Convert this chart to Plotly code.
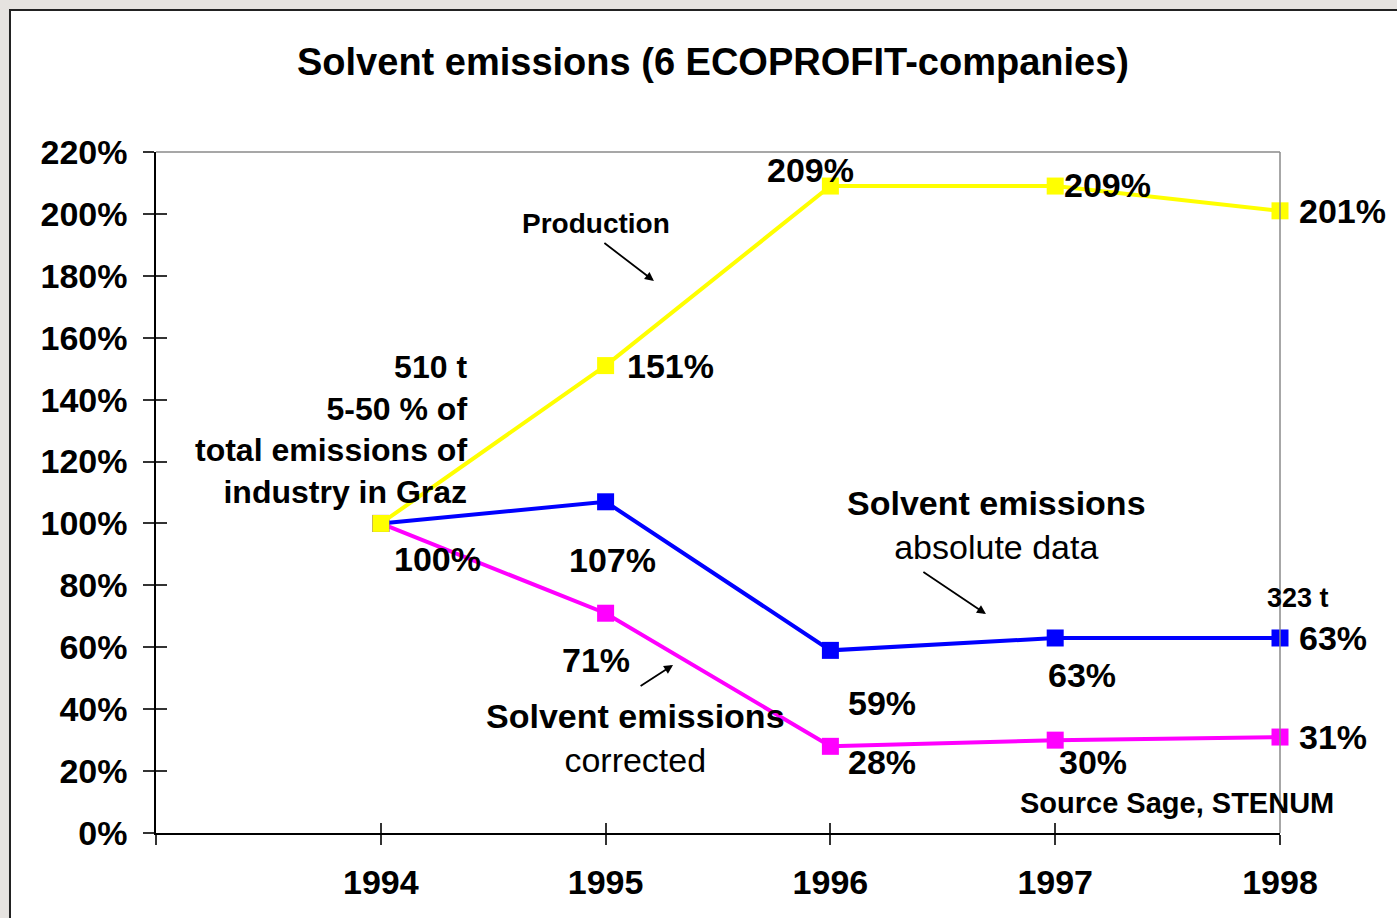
import plotly.graph_objects as go

# ---------------- data ----------------
years = [1994, 1995, 1996, 1997, 1998]
production = [100, 151, 209, 209, 201]
solvent_absolute = [100, 107, 59, 63, 63]
solvent_corrected = [100, 71, 28, 30, 31]
y_tick_values = [0, 20, 40, 60, 80, 100, 120, 140, 160, 180, 200, 220]
title_text = "Solvent emissions (6 ECOPROFIT-companies)"

FONT = "Liberation Sans, Arial, sans-serif"
YELLOW, BLUE, MAGENTA = "#FFFF00", "#0000FF", "#FF00FF"
BG = "#e6e3e0"

W, H = 1397, 918
ML, MT, PW, PH = 156, 152, 1124, 681


def frac(v):
    return [x / 100 for x in v]


fig = go.Figure()

# dummy trace for overlay axes (crossing tick marks)
fig.add_trace(go.Scatter(x=[None], y=[None], xaxis="x2", yaxis="y2",
                         showlegend=False, hoverinfo="skip"))

for vals, col in [(solvent_corrected, MAGENTA), (solvent_absolute, BLUE), (production, YELLOW)]:
    fig.add_trace(go.Scatter(
        x=years, y=frac(vals), mode="lines+markers",
        line=dict(color=col, width=4),
        marker=dict(symbol="square", size=17, color=col),
        cliponaxis=False, showlegend=False, hoverinfo="skip"))

lab_font = dict(family=FONT, size=34, color="black", weight="bold")

# data labels: (series, index, xshift, yshift, xanchor)
label_pos = [
    (production, 1, 19, 0, "left"),
    (production, 2, -20, 16, "center"),
    (production, 3, 7, 1, "left"),
    (production, 4, 17, 0, "left"),
    (solvent_absolute, 0, 11, -36, "left"),
    (solvent_absolute, 1, 7, -58, "center"),
    (solvent_absolute, 2, 52, -53, "center"),
    (solvent_absolute, 3, 27, -37, "center"),
    (solvent_absolute, 4, 17, 0, "left"),
    (solvent_corrected, 1, -10, -47, "center"),
    (solvent_corrected, 2, 52, -16, "center"),
    (solvent_corrected, 3, 38, -22, "center"),
    (solvent_corrected, 4, 17, 0, "left"),
]
for series, i, xs, ys, xa in label_pos:
    fig.add_annotation(x=years[i], y=series[i] / 100, text=f"{series[i]}%",
                       showarrow=False, xshift=xs, yshift=ys, xanchor=xa,
                       yanchor="middle", font=lab_font)

# free text
fig.add_annotation(x=1994.957, y=1.968, text="Production", showarrow=False,
                   font=dict(family=FONT, size=28, color="black", weight="bold"))
fig.add_annotation(x=1994.379, xshift=3, y=1.305,
                   text="510 t<br>5-50 % of<br>total emissions of<br>industry in Graz",
                   showarrow=False, xanchor="right", align="right",
                   font=dict(family=FONT, size=32, color="black", weight="bold"))
fig.add_annotation(x=1996.741, y=0.995,
                   text="<b>Solvent emissions</b><br>absolute data",
                   showarrow=False, font=dict(family=FONT, size=34, color="black"))
fig.add_annotation(x=1995.131, y=0.307,
                   text="<b>Solvent emissions</b><br>corrected",
                   showarrow=False, font=dict(family=FONT, size=34, color="black"))
fig.add_annotation(x=1998, xshift=18, y=0.759, text="323 t", showarrow=False,
                   font=dict(family=FONT, size=27, color="black", weight="bold"))
fig.add_annotation(x=1997.542, y=0.097, text="Source Sage, STENUM", showarrow=False,
                   font=dict(family=FONT, size=29, color="black", weight="bold"))

# arrows
for (tx, ty, hx, hy) in [(1994.988, 1.9095, 1995.215, 1.7835),
                         (1996.407, 0.8465, 1996.692, 0.7076),
                         (1995.149, 0.4717, 1995.300, 0.5428)]:
    fig.add_annotation(x=hx, y=hy, ax=tx, ay=ty, axref="x", ayref="y",
                       xref="x", yref="y", text="", showarrow=True,
                       arrowhead=2, arrowsize=1, arrowwidth=1.8, arrowcolor="black")

# background frame
fig.add_shape(type="rect", xref="paper", yref="paper",
              x0=-0.1299, x1=1.2, y0=-0.2, y1=1.2085,
              fillcolor="white", line=dict(color="#222222", width=2), layer="below")
# grey top & right plot borders
fig.add_shape(type="line", xref="paper", yref="paper", x0=0, x1=1, y0=1, y1=1,
              line=dict(color="#8a8a8a", width=1.5))
fig.add_shape(type="line", xref="paper", yref="paper", x0=1, x1=1, y0=0, y1=1,
              line=dict(color="#8a8a8a", width=1.5))

xtickvals = [1993] + years
xticktext = [""] + [str(y) for y in years]
ytv = [v / 100 for v in y_tick_values]

fig.update_layout(
    width=W, height=H,
    margin=dict(l=ML, r=W - ML - PW, t=MT, b=H - MT - PH),
    paper_bgcolor=BG, plot_bgcolor="white",
    title=dict(text=title_text, x=713 / W, y=1 - 62 / H, xanchor="center",
               yanchor="middle",
               font=dict(family=FONT, size=38, color="black", weight="bold")),
    xaxis=dict(range=[1993, 1998], tickvals=xtickvals, ticktext=xticktext,
               showgrid=False, zeroline=False, showline=True, linecolor="black",
               linewidth=1.5, ticks="outside", ticklen=10, tickcolor="#333",
               tickwidth=1.5, ticklabelstandoff=8,
               tickfont=dict(family=FONT, size=34, color="black", weight="bold")),
    yaxis=dict(range=[0, 2.2], tickvals=ytv, tickformat=".0%",
               showgrid=False, zeroline=False, showline=True, linecolor="black",
               linewidth=1.5, ticks="outside", ticklen=11, tickcolor="#333",
               tickwidth=1.5, ticklabelstandoff=9,
               tickfont=dict(family=FONT, size=34, color="black", weight="bold")),
    xaxis2=dict(range=[1993, 1998], overlaying="x", anchor="y2", side="bottom",
                tickvals=xtickvals, showticklabels=False, showgrid=False,
                zeroline=False, showline=False, ticks="inside", ticklen=10,
                tickcolor="#333", tickwidth=1.5),
    yaxis2=dict(range=[0, 2.2], overlaying="y", anchor="x2", side="left",
                tickvals=ytv, showticklabels=False, showgrid=False,
                zeroline=False, showline=False, ticks="inside", ticklen=11,
                tickcolor="#333", tickwidth=1.5),
)

fig.write_html(
    "out.html",
    config={"displayModeBar": False},
    post_script=f"document.body.style.margin='0';document.body.style.overflow='hidden';"
                f"document.body.style.background='{BG}';")
